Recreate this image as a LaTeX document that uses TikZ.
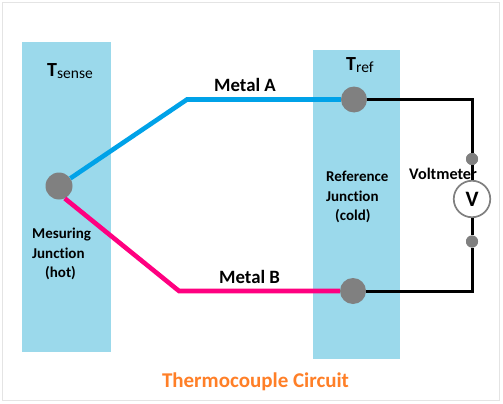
\documentclass[tikz,border=0pt]{standalone}
\usepackage{fontspec}
\setmainfont[Ligatures=NoCommon]{Carlito}
\definecolor{panel}{HTML}{9BD9EB}
\definecolor{frameg}{HTML}{E4E4E4}
\definecolor{metala}{HTML}{00A2E8}
\definecolor{metalb}{HTML}{FF0080}
\definecolor{dotg}{HTML}{808080}
\definecolor{titleo}{HTML}{FF7F27}
\tikzset{
 junction/.style={circle,fill=dotg,draw=none,inner sep=0pt,minimum size=#1},
 small/.style={font=\bfseries\fontsize{15}{19.5}\selectfont,inner sep=0pt,align=left},
 metallbl/.style={font=\bfseries\fontsize{18.8}{22}\selectfont,inner sep=0pt},
 templbl/.style={font=\bfseries\fontsize{20}{24}\selectfont,inner sep=0pt},
 wirea/.style={metala,line width=4.6pt},
 wireb/.style={metalb,line width=4.6pt},
 wirek/.style={black,line width=3pt},
}
\begin{document}
\begin{tikzpicture}[x=1pt,y=-1pt]
\useasboundingbox (0,0) rectangle (503,404);
\fill[white] (0,0) rectangle (503,404);
\draw[frameg,line width=1.2pt] (2.5,2.5) rectangle (499.5,400.5);
\fill[panel] (22,42) rectangle (111,352);
\fill[panel] (313,50) rectangle (400,359);
\node[junction=27pt] (hot) at (59,186) {};
\node[junction=26pt] (cold1) at (354,99.5) {};
\node[junction=26pt] (cold2) at (353,291) {};
\coordinate (a1) at (187,99.5);
\coordinate (b1) at (179,291);
\node[junction=12pt] (p1) at (472,159) {};
\node[junction=12pt] (p2) at (472,241.5) {};
\node[circle,draw=dotg,fill=white,line width=1.7pt,minimum size=36.5pt,inner sep=0pt,font=\bfseries\fontsize{22}{24}\selectfont] (vm) at (472,199) {V};
\draw[wirea] (hot) -- (a1) -- (cold1);
\draw[wireb] (hot.-65) -- (b1) -- (cold2);
\draw[wirek] (cold1) -| (p1);
\draw[wirek] (p1) -- (vm);
\draw[wirek] (vm) -- (p2);
\draw[wirek] (p2) |- (cold2);
\node[junction=12pt] at (p1) {};
\node[junction=12pt] at (p2) {};
\node[templbl,anchor=west] (ts) at (47,71) {T\raisebox{-2.5pt}{\fontsize{15.5}{18}\selectfont\mdseries sense}};
\node[templbl,anchor=west] (tref) at (346,65) {T\raisebox{-2.5pt}{\fontsize{15.5}{18}\selectfont\mdseries ref}};
\node[metallbl,anchor=west] (ma) at (214,85) {Metal A};
\node[metallbl,anchor=west] (mb) at (219,277) {Metal B};
\node[small,anchor=west] (hotl) at (32,254) {Mesuring\\Junction\\\hspace*{13pt}(hot)};
\node[small,anchor=west] (coldl) at (326,197) {Reference\\Junction\\\hspace*{9pt}(cold)};
\node[small,anchor=west,font=\bfseries\fontsize{16.2}{19.5}\selectfont] (vl) at (409,174) {Voltmeter};
\node[font=\bfseries\fontsize{21}{24}\selectfont,titleo,inner sep=0pt] (title) at (255.5,382) {Thermocouple Circuit};
\end{tikzpicture}
\end{document}
